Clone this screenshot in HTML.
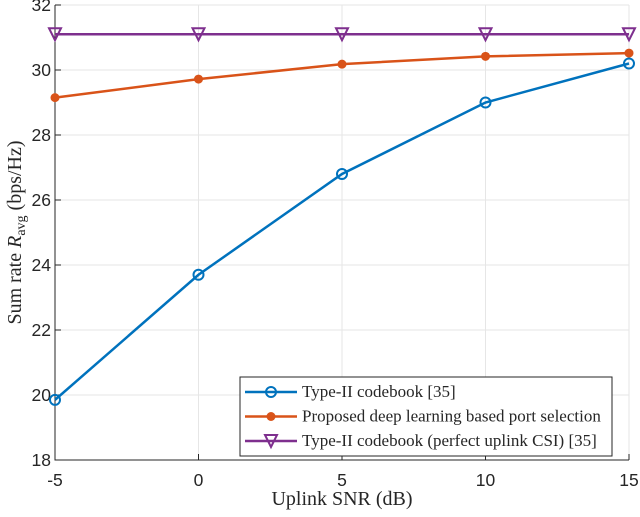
<!DOCTYPE html>
<html><head><meta charset="utf-8"><style>
body{margin:0;background:#fff}
svg text{font-family:"Liberation Sans",sans-serif;fill:#262626}
.serif{font-family:"Liberation Serif",serif !important}
</style></head><body>
<svg id="chart" width="640" height="512"></svg>
<script>
const xCats=[-5,0,5,10,15];
const yTicks=[18,20,22,24,26,28,30,32];
const seriesBlue=[19.85,23.7,26.8,29.0,30.2];
const seriesOrange=[29.15,29.72,30.18,30.42,30.52];
const seriesPurple=[31.1,31.1,31.1,31.1,31.1];
const L=55,R=629,T=5,B=460;
const sx=v=>L+(v+5)/20*(R-L);
const sy=v=>B-(v-18)/14*(B-T);
const svg=document.getElementById('chart');
const NS='http://www.w3.org/2000/svg';
function mk(tag,attrs,parent){const e=document.createElementNS(NS,tag);for(const k in attrs)e.setAttribute(k,attrs[k]);(parent||svg).appendChild(e);return e;}
xCats.forEach(v=>{const l=mk('line',{x1:sx(v),x2:sx(v),y1:T,y2:B,stroke:'#e6e6e6'});

});
yTicks.forEach(v=>{const l=mk('line',{x1:L,x2:R,y1:sy(v),y2:sy(v),stroke:'#e6e6e6'});

});
const ax=mk('path',{d:`M${L},${T}V${B}H${R}`,fill:'none',stroke:'#262626','stroke-width':1});


xCats.forEach(v=>{mk('line',{x1:sx(v),x2:sx(v),y1:B,y2:B-6,stroke:'#262626'});
const t=mk('text',{x:sx(v),y:B+26,'text-anchor':'middle','font-size':17.5});t.textContent=v;

});
yTicks.forEach(v=>{mk('line',{x1:L,x2:L+6,y1:sy(v),y2:sy(v),stroke:'#262626'});
const t=mk('text',{x:L-4,y:sy(v)+6,'text-anchor':'end','font-size':17.5});t.textContent=v;

});
const xt=mk('text',{x:(L+R)/2,y:505,'text-anchor':'middle','font-size':20,class:'serif'});xt.textContent='Uplink SNR (dB)';


const yt=mk('text',{transform:`translate(21,${(T+B)/2}) rotate(-90)`,'text-anchor':'middle','font-size':20,class:'serif'});
yt.innerHTML='Sum rate <tspan font-style="italic">R</tspan><tspan font-size="14" dy="4">avg</tspan><tspan dy="-4"> (bps/Hz)</tspan>';


function marker(type,x,y,c,g){
 if(type==='o')return mk('circle',{cx:x,cy:y,r:5,fill:'none',stroke:c,'stroke-width':2},g);
 if(type==='*'){const p=mk('g',{},g);mk('circle',{cx:x,cy:y,r:4.5,fill:c},p);return p;}
 return mk('path',{d:`M${x-6},${y-6}H${x+6}L${x},${y+6}Z`,fill:'none',stroke:c,'stroke-width':2},g);
}
const series=[[seriesBlue,'#0072BD','o','series-type-ii'],[seriesOrange,'#D95319','*','series-proposed'],[seriesPurple,'#7E2F8E','v','series-perfect-csi']];
series.forEach(([d,c,m,n])=>{
 const g=mk('g',{});
 
 
 mk('polyline',{points:d.map((v,i)=>sx(xCats[i])+','+sy(v)).join(' '),fill:'none',stroke:c,'stroke-width':2.5},g);
 d.forEach((v,i)=>{const p=marker(m,sx(xCats[i]),sy(v),c,g);
 
 });
});
const lg=mk('g',{});


mk('rect',{x:240,y:377,width:372,height:79,fill:'#fff',stroke:'#262626'},lg);
const labels=['Type-II codebook [35]','Proposed deep learning based port selection','Type-II codebook (perfect uplink CSI) [35]'];
series.forEach(([d,c,m],i)=>{
 const y=392+i*24.5;
 const e=mk('g',{},lg);
 
 
 mk('line',{x1:245,x2:297,y1:y,y2:y,stroke:c,'stroke-width':2.5},e);
 marker(m,271,y,c,e);
 const t=mk('text',{x:302,y:y+5,'font-size':17,textLength:null,class:'serif'},e);t.textContent=labels[i];
 t.removeAttribute('textLength');
});
</script>
</body></html>
